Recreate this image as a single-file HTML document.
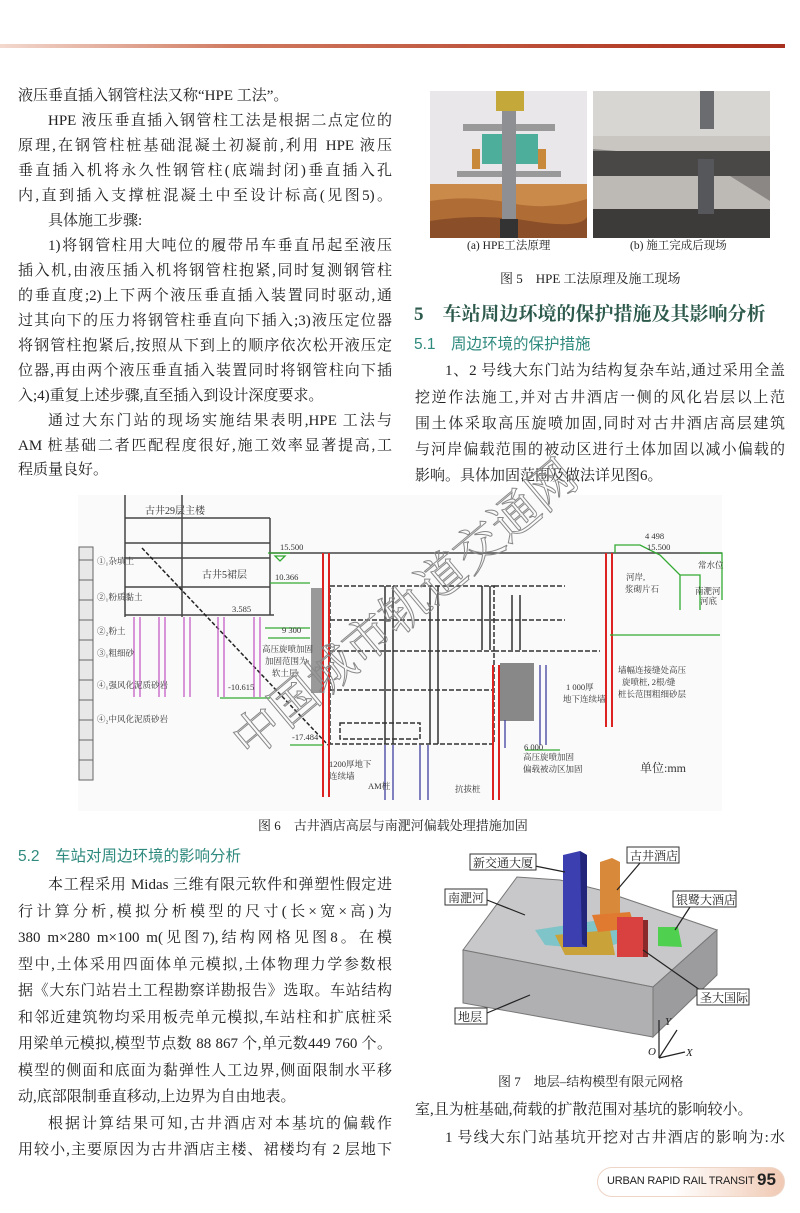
<!DOCTYPE html>
<html><head><meta charset="utf-8">
<style>
*{margin:0;padding:0;box-sizing:border-box}
body{width:800px;height:1213px;background:#fff;position:relative;overflow:hidden;font-family:"Liberation Serif","Noto Serif CJK SC",serif;color:#222}
.l{position:absolute;font-size:15px;line-height:20px;white-space:nowrap}
.j{text-align:justify;text-align-last:justify}
.L{left:18px;width:374px}
.R{left:415px;width:370px}
.cap{position:absolute;font-size:12.5px;white-space:nowrap}
.h{font-family:"Liberation Sans","Noto Sans CJK SC",sans-serif}
svg text{font-family:"Liberation Serif","Noto Serif CJK SC",serif}
</style></head><body>
<div style="position:absolute;left:0;top:44px;width:785px;height:4px;background:linear-gradient(90deg,#f3d9cf,#d07a60 30%,#b5402a 80%,#a8301e)"></div>

<!-- left column top -->
<div class="l L" style="top:86px">液压垂直插入钢管柱法又称“HPE 工法”。</div>
<div class="l L j" style="top:111px;left:48px;width:344px">HPE 液压垂直插入钢管柱工法是根据二点定位的</div>
<div class="l L j" style="top:136px">原理,在钢管柱桩基础混凝土初凝前,利用 HPE 液压</div>
<div class="l L j" style="top:161px">垂直插入机将永久性钢管柱(底端封闭)垂直插入孔</div>
<div class="l L j" style="top:186px">内,直到插入支撑桩混凝土中至设计标高(见图5)。</div>
<div class="l L" style="top:211px;left:48px">具体施工步骤:</div>
<div class="l L j" style="top:236px;left:48px;width:344px">1)将钢管柱用大吨位的履带吊车垂直吊起至液压</div>
<div class="l L j" style="top:261px">插入机,由液压插入机将钢管柱抱紧,同时复测钢管柱</div>
<div class="l L j" style="top:286px">的垂直度;2)上下两个液压垂直插入装置同时驱动,通</div>
<div class="l L j" style="top:311px">过其向下的压力将钢管柱垂直向下插入;3)液压定位器</div>
<div class="l L j" style="top:336px">将钢管柱抱紧后,按照从下到上的顺序依次松开液压定</div>
<div class="l L j" style="top:361px">位器,再由两个液压垂直插入装置同时将钢管柱向下插</div>
<div class="l L" style="top:386px">入;4)重复上述步骤,直至插入到设计深度要求。</div>
<div class="l L j" style="top:411px;left:48px;width:344px">通过大东门站的现场实施结果表明,HPE 工法与</div>
<div class="l L j" style="top:436px">AM 桩基础二者匹配程度很好,施工效率显著提高,工</div>
<div class="l L" style="top:460px">程质量良好。</div>

<!-- Figure 5 -->
<svg style="position:absolute;left:430px;top:91px" width="340" height="147">
<rect x="0" y="0" width="157" height="147" fill="#e9e7ea"/>
<rect x="0" y="93" width="157" height="54" fill="#c98a4a"/>
<path d="M0 110 Q40 104 80 112 T157 108 L157 147 L0 147Z" fill="#b06c35"/>
<path d="M0 130 Q50 122 100 130 T157 126 L157 147 L0 147Z" fill="#8a4f28"/>
<rect x="33" y="33" width="92" height="7" fill="#999"/>
<rect x="27" y="80" width="104" height="6" fill="#999"/>
<rect x="66" y="0" width="28" height="20" fill="#c4a93a"/>
<rect x="52" y="43" width="56" height="30" fill="#4dae9c"/>
<rect x="72" y="20" width="14" height="110" fill="#8d8f93"/>
<rect x="70" y="128" width="18" height="19" fill="#333"/>
<rect x="42" y="58" width="8" height="20" fill="#c88a3a"/>
<rect x="108" y="58" width="8" height="20" fill="#c88a3a"/>
<rect x="163" y="0" width="177" height="147" fill="#8a8784"/>
<rect x="163" y="0" width="177" height="45" fill="#d8d6d3"/>
<polygon points="163,45 340,45 340,60 280,68 163,58" fill="#c9c6c2"/>
<rect x="163" y="60" width="177" height="25" fill="#4a4846"/>
<polygon points="163,85 300,85 340,110 340,147 163,147" fill="#bdbab5"/>
<rect x="163" y="118" width="177" height="29" fill="#3d3b39"/>
<rect x="270" y="0" width="14" height="38" fill="#6a6c70"/>
<rect x="268" y="68" width="16" height="55" fill="#55575a"/>
</svg>
<div class="cap" style="left:467px;top:237px;font-size:11.5px">(a) HPE工法原理</div>
<div class="cap" style="left:630px;top:237px;font-size:11.5px">(b) 施工完成后现场</div>
<div class="cap" style="left:500px;top:268px;font-size:13px">图 5　HPE 工法原理及施工现场</div>

<div class="l R" style="top:303px;font-size:19px;line-height:24px;font-weight:bold;color:#2d5a4c;left:414px">5　车站周边环境的保护措施及其影响分析</div>
<div class="l R h" style="top:335px;font-size:15.5px;color:#2f8a7e;left:414px">5.1　周边环境的保护措施</div>
<div class="l R j" style="top:361px;left:445px;width:340px">1、2 号线大东门站为结构复杂车站,通过采用全盖</div>
<div class="l R j" style="top:388px">挖逆作法施工,并对古井酒店一侧的风化岩层以上范</div>
<div class="l R j" style="top:414px">围土体采取高压旋喷加固,同时对古井酒店高层建筑</div>
<div class="l R j" style="top:440px">与河岸偏载范围的被动区进行土体加固以减小偏载的</div>
<div class="l R" style="top:466px">影响。具体加固范围及做法详见图6。</div>

<!-- Figure 6 -->
<svg style="position:absolute;left:0;top:0" width="800" height="830">
<rect x="78" y="495" width="644" height="316" fill="#fafafa"/>
<g stroke="#666" fill="none" stroke-width="1">
<rect x="79" y="547" width="14" height="233" fill="#e8e8e8"/>
<path d="M79 560h14M79 580h14M79 600h14M79 620h14M79 640h14M79 660h14M79 680h14M79 700h14M79 720h14M79 740h14M79 760h14"/>
</g>
<g stroke="#444" fill="none" stroke-width="1.5">
<path d="M125 495V617M182 495V617M125 518H270M125 543H270M125 558H270M125 587H270M125 615H274M270 518V558M270 558V615"/>
<path d="M269 553H722"/>
</g>
<text x="145" y="514" font-size="10" fill="#333">古井29层主楼</text>
<text x="202" y="578" font-size="10" fill="#333">古井5裙层</text>
<line x1="142" y1="548" x2="328" y2="745" stroke="#222" stroke-width="1.5" stroke-dasharray="4,2"/>
<g stroke="#c050c0" fill="none" stroke-width="1.2">
<path d="M134 617V697M140 617V697M159 617V697M165 617V697M184 617V697M190 617V697M218 617V697M224 617V697M254 617V697M260 617V697"/>
</g>
<g stroke="#333" stroke-width="1.5" fill="none" stroke-dasharray="5,2">
<rect x="330" y="586" width="164" height="158"/>
<path d="M330 620H494M330 651H494M330 690H494M494 586H565M494 620H565M494 651H600"/>
<rect x="340" y="723" width="80" height="16"/>
</g>
<g stroke="#333" stroke-width="1.5" fill="none">
<path d="M385 586V744M393 586V744M430 586V744M438 586V744M482 586V650M490 586V650M512 595V650M520 595V650"/>
</g>
<rect x="311" y="588" width="13" height="105" fill="#999"/>
<rect x="500" y="663" width="34" height="58" fill="#888"/>
<g stroke="#d22" stroke-width="2" fill="none">
<path d="M323 553V797M329 553V797M493 665V800M499 665V800M606 553V727M612 553V727"/>
</g>
<g stroke="#4040a0" stroke-width="1.3" fill="none">
<path d="M385 745V800M393 745V800M420 745V800M428 745V800M505 720V748M540 665V745M546 665V745"/>
</g>
<g stroke="#3a3" stroke-width="1.3" fill="none">
<path d="M268 553L290 553M285 556l-5 5-5-5zM270 583H310M265 628H310M268 638H310M220 698H270M290 745H323M615 553V545H640L660 555L680 575V610M680 575H700V610M700 553H722V600M610 635H720M525 750H560"/>
</g>
<g font-size="8.5" fill="#333">
<text x="280" y="550">15.500</text><text x="275" y="580">10.366</text><text x="232" y="612">3.585</text>
<text x="282" y="633">9 300</text><text x="228" y="690">-10.615</text><text x="292" y="740">-17.484</text>
<text x="645" y="539">4 498</text><text x="647" y="550">15.500</text>
<text x="97" y="564">①₁杂填土</text><text x="97" y="600">②₁粉质黏土</text><text x="97" y="634">②₂粉土</text>
<text x="97" y="656">③₁粗细砂</text><text x="97" y="688">④₁强风化泥质砂岩</text><text x="97" y="722">④₂中风化泥质砂岩</text>
<text x="262" y="652">高压旋喷加固</text><text x="265" y="664">加固范围为</text><text x="272" y="676">软土层</text>
<text x="329" y="767">1200厚地下</text><text x="329" y="779">连续墙</text><text x="368" y="789">AM桩</text><text x="455" y="792">抗拔桩</text>
<text x="524" y="750">6 000</text>
<text x="523" y="760">高压旋喷加固</text><text x="523" y="772">偏载被动区加固</text>
<text x="566" y="690">1 000厚</text><text x="563" y="702">地下连续墙</text>
<text x="618" y="673">墙幅连接缝处高压</text><text x="622" y="685">旋喷桩, 2根/缝</text><text x="618" y="697">桩长范围粗细砂层</text>
<text x="626" y="580">河岸,</text><text x="625" y="592">浆砌片石</text>
<text x="698" y="568">常水位</text><text x="695" y="594">南淝河</text><text x="700" y="604">河底</text>
</g>
<text x="640" y="772" font-size="12" fill="#333">单位:mm</text>
<text x="250" y="760" font-size="48" fill="none" stroke="#888" stroke-width="1" transform="rotate(-40 250 760)" font-family="Liberation Sans,Noto Sans CJK SC,sans-serif">中国城市轨道交通网</text>
</svg>
<div class="cap" style="left:258px;top:815px;font-size:13px">图 6　古井酒店高层与南淝河偏载处理措施加固</div>

<!-- 5.2 -->
<div class="l L h" style="top:847px;font-size:15.5px;color:#2f8a7e">5.2　车站对周边环境的影响分析</div>
<div class="l L j" style="top:875px;left:48px;width:344px">本工程采用 Midas 三维有限元软件和弹塑性假定进</div>
<div class="l L j" style="top:902px">行计算分析,模拟分析模型的尺寸(长×宽×高)为</div>
<div class="l L j" style="top:928px">380 m×280 m×100 m(见图7),结构网格见图8。在模</div>
<div class="l L j" style="top:955px">型中,土体采用四面体单元模拟,土体物理力学参数根</div>
<div class="l L j" style="top:981px">据《大东门站岩土工程勘察详勘报告》选取。车站结构</div>
<div class="l L j" style="top:1008px">和邻近建筑物均采用板壳单元模拟,车站柱和扩底桩采</div>
<div class="l L j" style="top:1034px">用梁单元模拟,模型节点数 88 867 个,单元数449 760 个。</div>
<div class="l L j" style="top:1061px">模型的侧面和底面为黏弹性人工边界,侧面限制水平移</div>
<div class="l L" style="top:1087px">动,底部限制垂直移动,上边界为自由地表。</div>
<div class="l L j" style="top:1114px;left:48px;width:344px">根据计算结果可知,古井酒店对本基坑的偏载作</div>
<div class="l L j" style="top:1140px">用较小,主要原因为古井酒店主楼、裙楼均有 2 层地下</div>

<!-- Figure 7 -->
<svg style="position:absolute;left:0;top:0" width="800" height="1070">
<polygon points="463,950 517,877 560,880 600,890 717,930 653,987" fill="#c8c8ca" stroke="#777"/>
<polygon points="463,950 653,987 653,1037 463,1003" fill="#b0b0b3" stroke="#777"/>
<polygon points="653,987 717,930 717,975 653,1037" fill="#9c9c9f" stroke="#777"/>
<polygon points="535,930 600,920 640,935 600,950 545,945" fill="#7fc4c8"/>
<polygon points="555,935 610,930 615,955 565,955" fill="#c9a23a"/>
<polygon points="563,855 580,851 587,855 587,947 563,947" fill="#3b3fb0"/>
<polygon points="580,851 587,855 587,947 582,944" fill="#22257a"/>
<polygon points="600,862 612,858 620,862 620,917 600,917" fill="#d9893a"/>
<polygon points="592,915 630,912 635,928 598,932" fill="#e07a30"/>
<rect x="617" y="917" width="26" height="40" fill="#d94040"/>
<rect x="643" y="920" width="5" height="37" fill="#8a2a2a"/>
<polygon points="658,927 678,927 682,947 658,946" fill="#4fd04f"/>
<g stroke="#222" stroke-width="1.2">
<line x1="535" y1="866" x2="565" y2="872"/><line x1="640" y1="863" x2="617" y2="890"/>
<line x1="487" y1="900" x2="525" y2="915"/><line x1="690" y1="907" x2="675" y2="930"/>
<line x1="700" y1="990" x2="643" y2="950"/><line x1="487" y1="1013" x2="530" y2="995"/>
<line x1="659" y1="1058" x2="659" y2="1020"/><line x1="659" y1="1058" x2="685" y2="1052"/><line x1="659" y1="1058" x2="677" y2="1030"/>
</g>
<g font-size="12" fill="#222" stroke="none">
<rect x="470" y="854" width="66" height="16" fill="#fff" stroke="#333"/><text x="473" y="867">新交通大厦</text>
<rect x="627" y="847" width="52" height="16" fill="#fff" stroke="#333"/><text x="630" y="860">古井酒店</text>
<rect x="445" y="889" width="42" height="16" fill="#fff" stroke="#333"/><text x="448" y="902">南淝河</text>
<rect x="673" y="891" width="63" height="16" fill="#fff" stroke="#333"/><text x="676" y="904">银鹭大酒店</text>
<rect x="697" y="989" width="52" height="16" fill="#fff" stroke="#333"/><text x="700" y="1002">圣大国际</text>
<rect x="455" y="1008" width="32" height="16" fill="#fff" stroke="#333"/><text x="458" y="1021">地层</text>
<text x="665" y="1025" font-style="italic" font-size="11">Y</text><text x="648" y="1055" font-style="italic" font-size="11">O</text><text x="686" y="1056" font-style="italic" font-size="11">X</text>
</g>
</svg>
<div class="cap" style="left:498px;top:1071px;font-size:13px">图 7　地层–结构模型有限元网格</div>
<div class="l R" style="top:1100px">室,且为桩基础,荷载的扩散范围对基坑的影响较小。</div>
<div class="l R j" style="top:1128px;left:445px;width:340px">1 号线大东门站基坑开挖对古井酒店的影响为:水</div>

<!-- footer -->
<div style="position:absolute;left:597px;top:1167px;width:188px;height:30px;border-radius:15px;background:linear-gradient(90deg,#fff 40%,#f0c9b3);border:1px solid #eed5c6"></div>
<div class="h" style="position:absolute;left:607px;top:1175px;font-size:11px;letter-spacing:-0.2px;color:#222">URBAN RAPID RAIL TRANSIT</div>
<div class="h" style="position:absolute;left:757px;top:1170px;font-size:17px;font-weight:bold;color:#222">95</div>
</body></html>
